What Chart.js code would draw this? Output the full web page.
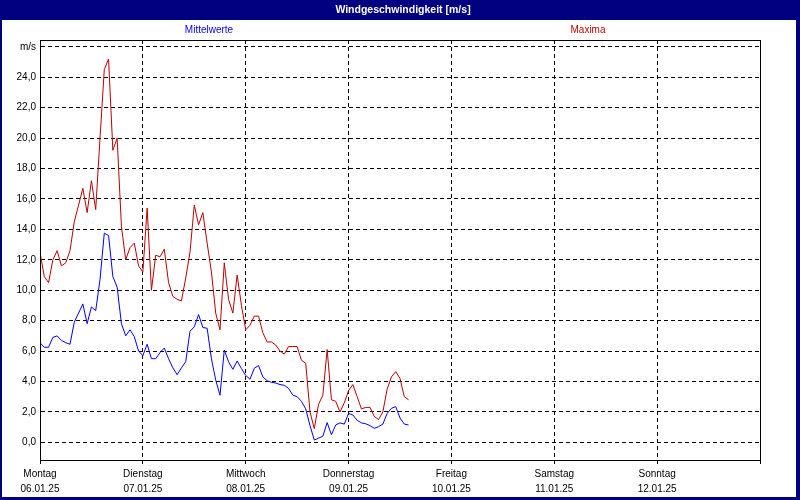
<!DOCTYPE html>
<html>
<head>
<meta charset="utf-8">
<script src="https://cdn.jsdelivr.net/npm/chart.js@4.4.1/dist/chart.umd.min.js"></script>
<style>
  body { margin: 0; background: #fff; }
  #wrap { width: 800px; height: 500px; }
</style>
</head>
<body>
<div id="wrap"><canvas id="wind" width="800" height="500"></canvas></div>
<script>
// hourly readings starting Montag 06.01.25 00:00
const hours = Array.from({length: 87}, (_, i) => i);

const meanValues = [
  6.55, 6.25, 6.25, 6.9, 7.0, 6.7, 6.55, 6.45, 7.9, 8.5,
  9.1, 7.8, 8.9, 8.66, 10.7, 13.75, 13.6, 10.9, 10.2, 7.8,
  7.0, 7.4, 6.95, 6.0, 5.7, 6.45, 5.5, 5.5, 5.9, 6.2,
  5.5, 4.9, 4.45, 4.9, 5.3, 7.3, 7.6, 8.4, 7.55, 7.5,
  5.5, 4.1, 3.1, 6.07, 5.3, 4.8, 5.35, 4.85, 4.4, 4.15,
  4.87, 5.05, 4.3, 4.05, 3.95, 3.9, 3.8, 3.75, 3.55, 3.1,
  3.0, 2.7, 2.2, 1.1, 0.15, 0.28, 0.4, 1.3, 0.5, 1.14,
  1.28, 1.2, 1.9, 1.8, 1.45, 1.28, 1.22, 1.1, 0.92, 1.03,
  1.2, 1.9, 2.24, 2.35, 1.6, 1.2, 1.14
];

const maxValues = [
  12.5, 10.9, 10.5, 12.0, 12.6, 11.6, 11.8, 12.6, 14.5, 15.6,
  16.7, 15.1, 17.2, 15.3, 20.0, 24.5, 25.2, 19.2, 20.0, 14.2,
  12.0, 12.8, 13.1, 11.6, 11.2, 15.4, 10.0, 12.3, 12.2, 12.7,
  10.5, 9.6, 9.4, 9.3, 10.8, 12.5, 15.6, 14.3, 15.1, 13.1,
  11.2, 8.5, 7.4, 11.8, 9.4, 8.5, 11.0, 9.0, 7.4, 7.7,
  8.3, 8.3, 7.2, 6.6, 6.6, 6.4, 6.0, 5.8, 6.3, 6.3,
  6.3, 5.4, 5.2, 2.0, 0.9, 2.5, 3.1, 6.1, 2.8, 2.7,
  2.0, 2.6, 3.4, 3.8, 3.0, 2.2, 2.3, 2.3, 1.7, 1.5,
  2.0, 3.5, 4.3, 4.65, 4.2, 3.0, 2.8
];

const dayNames = ['Montag', 'Dienstag', 'Mittwoch', 'Donnerstag', 'Freitag', 'Samstag', 'Sonntag'];
const dayDates = ['06.01.25', '07.01.25', '08.01.25', '09.01.25', '10.01.25', '11.01.25', '12.01.25'];

const navy = '#000080';
const meanColor = '#0000ff';
const maxColor = '#c00000';
const uiFont = "'Liberation Sans', Arial, sans-serif";

// frame, title bar, legend texts and plot box
const framePlugin = {
    id: 'frame',
    beforeDraw(chart) {
        const ctx = chart.ctx;
        ctx.save();
        ctx.fillStyle = '#fff';
        ctx.fillRect(0, 0, chart.width, chart.height);
        ctx.fillStyle = navy;
        ctx.fillRect(0, 0, chart.width, 20);
        ctx.fillStyle = '#fff';
        ctx.font = 'bold 10.5px ' + uiFont;
        ctx.textAlign = 'center';
        ctx.textBaseline = 'middle';
        ctx.fillText('Windgeschwindigkeit [m/s]', 403, 10);
        ctx.font = '10px ' + uiFont;
        ctx.fillStyle = meanColor;
        ctx.fillText('Mittelwerte', 209, 30);
        ctx.fillStyle = maxColor;
        ctx.fillText('Maxima', 588, 30);
        ctx.restore();
    },
    afterDraw(chart) {
        const ctx = chart.ctx;
        const a = chart.chartArea;
        ctx.save();
        ctx.strokeStyle = '#000';
        ctx.lineWidth = 1;
        ctx.strokeRect(Math.round(a.left) + 0.5, Math.round(a.top) + 0.5,
            Math.round(a.right - a.left), Math.round(a.bottom - a.top));
        ctx.fillStyle = navy;
        ctx.fillRect(0, 0, 2, chart.height);
        ctx.fillRect(chart.width - 4, 0, 4, chart.height);
        ctx.fillRect(0, chart.height - 3, chart.width, 3);
        ctx.restore();
    }
};

new Chart(document.getElementById('wind').getContext('2d'), {
    type: 'line',
    data: {
        datasets: [{
            label: 'Mittelwerte',
            data: hours.map((h, i) => ({x: h, y: meanValues[i]})),
            borderColor: meanColor,
            borderWidth: 1,
            pointRadius: 0,
            tension: 0
        }, {
            label: 'Maxima',
            data: hours.map((h, i) => ({x: h, y: maxValues[i]})),
            borderColor: maxColor,
            borderWidth: 1,
            pointRadius: 0,
            tension: 0
        }]
    },
    options: {
        responsive: false,
        animation: false,
        layout: { padding: { top: 40, right: 40, left: 0, bottom: 0 } },
        plugins: {
            legend: { display: false },
            tooltip: { enabled: false }
        },
        scales: {
            x: {
                type: 'linear',
                min: 0,
                max: 168,
                afterFit(scale) { scale.height = 40; },
                ticks: {
                    stepSize: 24,
                    autoSkip: false,
                    maxRotation: 0,
                    padding: 3,
                    color: '#000',
                    font: { family: uiFont, size: 10, lineHeight: 1.45 },
                    callback: (v) => {
                        const d = v / 24;
                        return d < 7 ? [dayNames[d], dayDates[d]] : '';
                    }
                },
                grid: { color: '#000', lineWidth: 1, tickLength: 4, tickBorderDash: [] },
                border: { color: '#000', width: 1, dash: [4, 3] }
            },
            y: {
                min: -1.16,
                max: 26.45,
                afterFit(scale) { scale.width = 40; },
                ticks: {
                    stepSize: 2,
                    includeBounds: false,
                    padding: 4,
                    color: '#000',
                    font: { family: uiFont, size: 10 },
                    callback: (v) => v === 26 ? 'm/s' : v.toFixed(1).replace('.', ',')
                },
                grid: { color: '#000', lineWidth: 1, drawTicks: false },
                border: { color: '#000', width: 1, dash: [4, 3] }
            }
        }
    },
    plugins: [framePlugin]
});
</script>
</body>
</html>
